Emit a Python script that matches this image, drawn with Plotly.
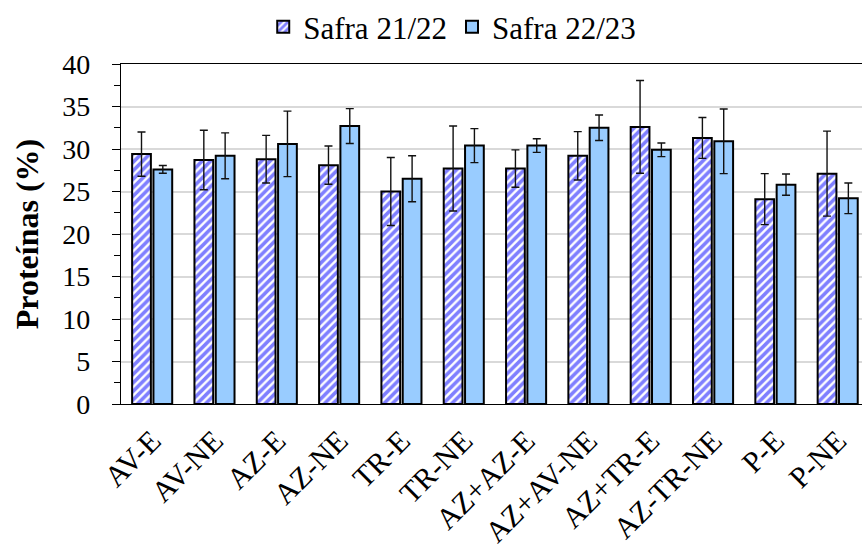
import plotly.graph_objects as go

categories = ["AV-E", "AV-NE", "AZ-E", "AZ-NE", "TR-E", "TR-NE", "AZ+AZ-E",
              "AZ+AV-NE", "AZ+TR-E", "AZ-TR-NE", "P-E", "P-NE"]
series_names = ["Safra 21/22", "Safra 22/23"]
safra_2122 = [29.4, 28.7, 28.8, 28.1, 25.0, 27.7, 27.7, 29.2, 32.6, 31.3, 24.1, 27.1]
err_2122 = [2.6, 3.5, 2.8, 2.25, 4.0, 5.0, 2.2, 2.85, 5.45, 2.4, 3.0, 5.0]
safra_2223 = [27.6, 29.2, 30.6, 32.7, 26.5, 30.4, 30.4, 32.5, 29.9, 30.9, 25.8, 24.2]
err_2223 = [0.45, 2.7, 3.85, 2.05, 2.7, 2.0, 0.8, 1.5, 0.8, 3.8, 1.25, 1.8]

FONT = "Liberation Serif"

fig = go.Figure()
fig.add_trace(go.Bar(
    name=series_names[0], x=categories, y=safra_2122,
    marker=dict(color="white", line=dict(color="black", width=2),
                pattern=dict(shape="/", fgcolor="#0000FF", bgcolor="white",
                             size=6, solidity=0.6, fillmode="overlay")),
    error_y=dict(type="data", array=err_2122, color="#111111", thickness=1.4, width=4),
))
fig.add_trace(go.Bar(
    name=series_names[1], x=categories, y=safra_2223,
    marker=dict(color="#99CCFF", line=dict(color="black", width=2)),
    error_y=dict(type="data", array=err_2223, color="#111111", thickness=1.4, width=4),
))

fig.update_layout(
    width=862, height=551,
    margin=dict(l=121, r=0, t=62, b=147),
    paper_bgcolor="white", plot_bgcolor="white",
    barmode="group", bargap=0.316, bargroupgap=0.12,
    font=dict(family=FONT, size=28, color="black"),
    showlegend=True,
    legend=dict(orientation="h", x=0.447, xanchor="center", y=1.11, yanchor="middle",
                font=dict(family=FONT, size=31, color="black"), itemwidth=30,
                traceorder="normal", bgcolor="rgba(0,0,0,0)"),
)
fig.update_xaxes(
    range=[-0.5, 11.39], showline=True, linecolor="black", linewidth=1.2, mirror=True,
    ticks="", tickangle=-45, tickfont=dict(family=FONT, size=30, color="black"),
    showgrid=False, ticklabelstandoff=6,
)
fig.update_yaxes(
    range=[0, 40], dtick=5, showline=True, linecolor="black", linewidth=1.2,
    ticks="outside", ticklen=8, tickcolor="black", tickwidth=1,
    minor=dict(dtick=2.5, ticks="outside", ticklen=6, tickcolor="black", showgrid=False),
    showgrid=True, gridcolor="#d9d9d9", gridwidth=1.5, zeroline=False,
    tickfont=dict(family=FONT, size=28, color="black"), ticklabelstandoff=16,
    title=dict(text="<b>Proteínas (%)</b>", font=dict(family=FONT, size=32, color="black"),
               standoff=14),
)

fig.write_html("out.html", config={"displayModeBar": False},
               post_script="document.body.style.margin='0';document.body.style.padding='0';")
